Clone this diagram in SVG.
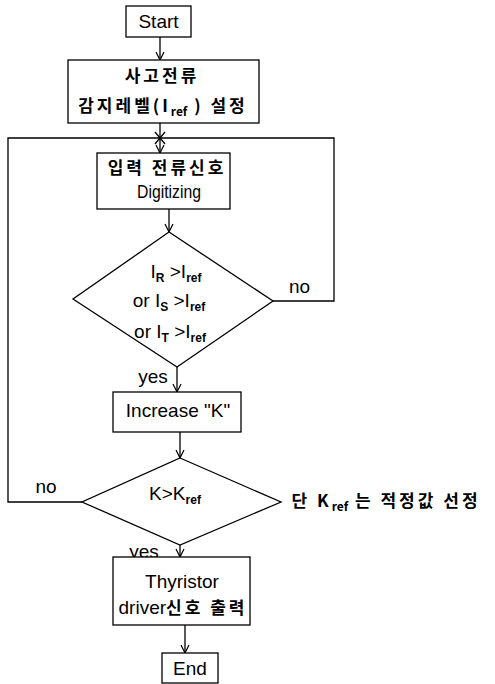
<svg xmlns="http://www.w3.org/2000/svg" width="495" height="684" viewBox="0 0 495 684">
<style>
.box{fill:#fff;stroke:#000;stroke-width:1.3}
.ln{fill:none;stroke:#000;stroke-width:1.3}
text{font-family:"Liberation Sans","Noto Sans CJK KR",Arial,sans-serif;font-size:19px;fill:#000;text-anchor:middle}
.ko{font-family:"Noto Sans CJK KR","Liberation Sans",sans-serif;font-size:17px;font-weight:bold;letter-spacing:3px}
.sub{font-size:12px;font-weight:bold;letter-spacing:0}
</style>
<defs>
<marker id="ah" markerWidth="10" markerHeight="10" refX="9" refY="5" orient="auto" markerUnits="userSpaceOnUse">
<path d="M1,1 L9,5 L1,9" fill="none" stroke="#000" stroke-width="1.2"/>
</marker>
</defs>
<g id="connectors">
<line class="ln" x1="160" y1="37" x2="160" y2="60" marker-end="url(#ah)"/>
<line class="ln" x1="160" y1="123" x2="160" y2="153" marker-end="url(#ah)"/>
<path class="ln" d="M155,132 L165,144 M165,132 L155,144"/>
<line class="ln" x1="169" y1="209" x2="169" y2="232" marker-end="url(#ah)"/>
<polyline class="ln" points="273,301 334,301 334,138 8,138 8,502 82,502"/>
<line class="ln" x1="177" y1="367" x2="177" y2="392" marker-end="url(#ah)"/>
<line class="ln" x1="180" y1="432" x2="180" y2="458" marker-end="url(#ah)"/>
<line class="ln" x1="180" y1="545" x2="180" y2="557" marker-end="url(#ah)"/>
<line class="ln" x1="185" y1="625" x2="185" y2="653" marker-end="url(#ah)"/>
<text x="299.5" y="293">no</text>
<text x="153" y="383">yes</text>
<text x="46" y="493">no</text>
<text x="144" y="558">yes</text>
</g>
<g id="start">
<rect class="box" x="126" y="6" width="65" height="31"/>
<text x="158.5" y="28">Start</text>
</g>
<g id="setlevel">
<rect class="box" x="68" y="60" width="191" height="63"/>
<text class="ko" x="162" y="82">사고전류</text>
<text class="ko" x="163" y="112">감지레벨(I<tspan class="sub" dy="4">ref</tspan><tspan dy="-4"> ) 설정</tspan></text>
</g>
<g id="digitize">
<rect class="box" x="97" y="153" width="133" height="56"/>
<text class="ko" x="167" y="174">입력 전류신호</text>
<text x="169" y="198" textLength="64" lengthAdjust="spacingAndGlyphs">Digitizing</text>
</g>
<g id="compare">
<polygon class="box" points="169,232 273,301 177,367 73,299"/>
<text x="176" y="278">I<tspan class="sub" dy="4">R</tspan><tspan dy="-4"> &gt;I</tspan><tspan class="sub" dy="4">ref</tspan></text>
<text x="169" y="307">or I<tspan class="sub" dy="4">S</tspan><tspan dy="-4"> &gt;I</tspan><tspan class="sub" dy="4">ref</tspan></text>
<text x="170" y="338">or I<tspan class="sub" dy="4">T</tspan><tspan dy="-4"> &gt;I</tspan><tspan class="sub" dy="4">ref</tspan></text>
</g>
<g id="increase">
<rect class="box" x="113" y="392" width="128" height="40"/>
<text x="178" y="417">Increase "K"</text>
</g>
<g id="kcheck">
<polygon class="box" points="180,458 281,502 180,545 82,502"/>
<text x="175" y="500">K&gt;K<tspan class="sub" dy="4">ref</tspan></text>
</g>
<g id="note">
<text class="ko" x="386" y="507">단 K<tspan class="sub" dy="4">ref</tspan><tspan dy="-4"> 는 적정값 선정</tspan></text>
</g>
<g id="thyristor">
<rect class="box" x="113" y="557" width="137" height="68"/>
<text x="182" y="588">Thyristor</text>
<text x="183" y="614">driver<tspan class="ko" letter-spacing="2px">신호 출력</tspan></text>
</g>
<g id="end">
<rect class="box" x="162" y="653" width="56" height="30"/>
<text x="190" y="675" font-size="18">End</text>
</g>
</svg>
